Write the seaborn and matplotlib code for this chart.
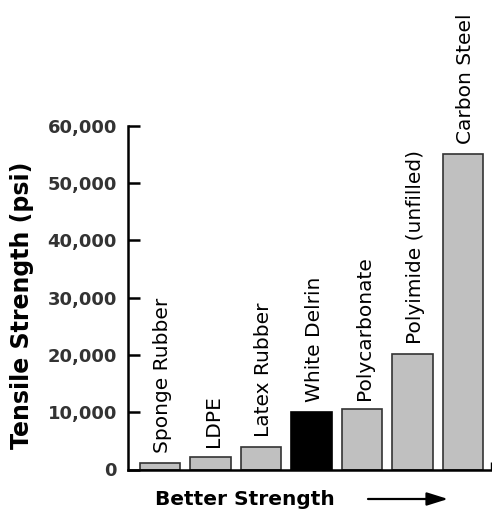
import matplotlib
matplotlib.use("Agg")
import matplotlib.pyplot as plt
import seaborn as sns

# materials, weakest to strongest
materials = ["Sponge Rubber", "LDPE", "Latex Rubber", "White Delrin",
             "Polycarbonate", "Polyimide (unfilled)", "Carbon Steel"]
tensile_psi = [1200, 2200, 4000, 10000, 10500, 20200, 55000]
bar_colors = ["#c0c0c0", "#c0c0c0", "#c0c0c0", "#000000",
              "#c0c0c0", "#c0c0c0", "#c0c0c0"]
y_ticks = [0, 10000, 20000, 30000, 40000, 50000, 60000]
y_tick_labels = ["0", "10,000", "20,000", "30,000", "40,000", "50,000", "60,000"]

sns.set_style("white")
plt.rcParams["font.family"] = ["DejaVu Sans"]

fig = plt.figure(figsize=(4.92, 5.13), dpi=100)
W, H = 492, 513
ax = fig.add_axes([128 / W, (H - 469.5) / H, 363 / W, 344 / H])

sns.barplot(x=materials, y=tensile_psi, hue=materials, palette=bar_colors,
            legend=False, saturation=1, width=0.81,
            edgecolor="#333333", linewidth=1.2, ax=ax)
# keep the black bar edge black
for patch, c in zip(ax.patches, bar_colors):
    if c == "#000000":
        patch.set_edgecolor("#000000")

ax.set_xlim(-0.634, 6.554)
ax.set_ylim(0, 60000)

sns.despine(ax=ax)
for side in ["left", "bottom"]:
    ax.spines[side].set_linewidth(1.8)
    ax.spines[side].set_color("black")

ax.set_yticks(y_ticks)
ax.set_yticklabels(y_tick_labels, fontsize=13, fontweight="bold", color="#333333")
ax.tick_params(axis="y", direction="in", length=8.5, width=1.8, color="black", pad=8, left=True)

ax.set_xticks([6.554])
ax.set_xticklabels([""])
ax.tick_params(axis="x", direction="in", length=6, width=1, color="black", bottom=True)

ax.set_xlabel("")
ax.set_ylabel("Tensile Strength (psi)", fontsize=17, fontweight="bold", color="black")
ax.yaxis.set_label_coords(-0.258, 0.478)

for i, (name, val) in enumerate(zip(materials, tensile_psi)):
    ax.annotate(name, xy=(i, val), xytext=(2, 7), textcoords="offset points",
                rotation=90, ha="center", va="bottom", fontsize=14.5,
                color="black", annotation_clip=False)

fig.text(155 / W, (H - 505) / H, "Better Strength", fontsize=14.5,
         fontweight="bold", color="black", ha="left", va="baseline")
ax.annotate("", xy=(448 / W, (H - 499) / H), xytext=(368 / W, (H - 499) / H),
            xycoords="figure fraction", textcoords="figure fraction",
            arrowprops=dict(arrowstyle="-|>,head_length=0.8,head_width=0.25",
                            lw=1.6, color="black",
                            mutation_scale=16, shrinkA=0, shrinkB=0),
            annotation_clip=False)

fig.savefig("out.png", dpi=100)
